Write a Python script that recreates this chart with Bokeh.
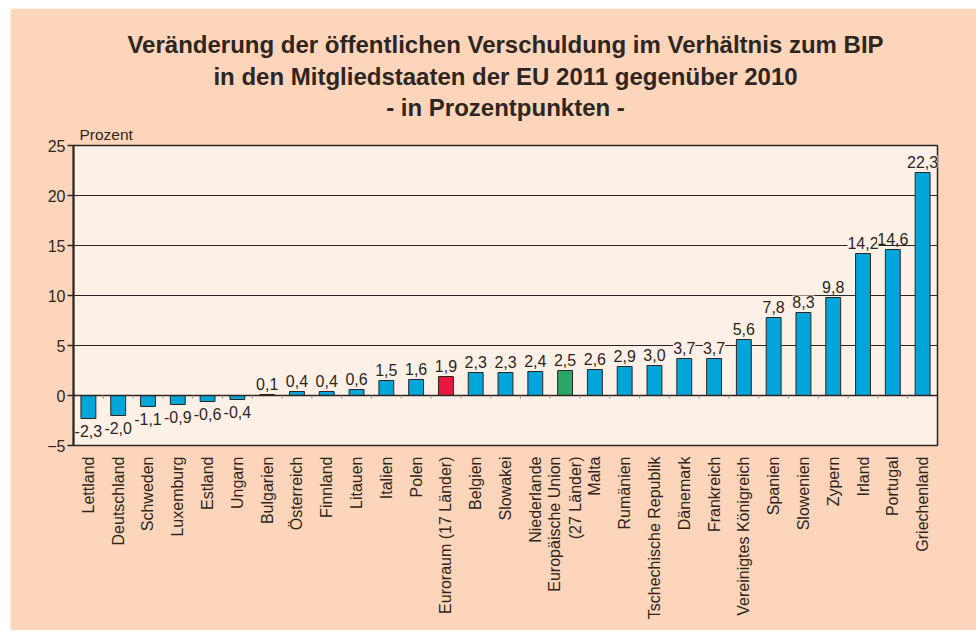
import math
from bokeh.plotting import figure
from bokeh.models import ColumnDataSource, LabelSet, Range1d, FactorRange, FixedTicker, Title
from bokeh.core.properties import value
from bokeh.embed import file_html
from bokeh.resources import INLINE

countries = ["Lettland", "Deutschland", "Schweden", "Luxemburg", "Estland", "Ungarn",
             "Bulgarien", "Österreich", "Finnland", "Litauen", "Italien", "Polen",
             "Euroraum (17 Länder)", "Belgien", "Slowakei", "Niederlande",
             "Europäische Union\n(27 Länder)", "Malta", "Rumänien", "Tschechische Republik",
             "Dänemark", "Frankreich", "Vereinigtes Königreich", "Spanien", "Slowenien",
             "Zypern", "Irland", "Portugal", "Griechenland"]
values = [-2.3, -2.0, -1.1, -0.9, -0.6, -0.4, 0.1, 0.4, 0.4, 0.6, 1.5, 1.6, 1.9, 2.3, 2.3,
          2.4, 2.5, 2.6, 2.9, 3.0, 3.7, 3.7, 5.6, 7.8, 8.3, 9.8, 14.2, 14.6, 22.3]
y_ticks = [-5, 0, 5, 10, 15, 20, 25]
title_lines = ["Veränderung der öffentlichen Verschuldung im Verhältnis zum BIP",
               "in den Mitgliedstaaten der EU 2011 gegenüber 2010",
               "- in Prozentpunkten -"]
y_unit = "Prozent"

BLUE = "#00a5da"
RED = "#e8173f"
GREEN = "#2aa764"
OUTER = "#fdd5ba"
INNER = "#fdf0e6"
DARK = "#2e2520"
FONT = "Liberation Sans"

colors = []
for c in countries:
    if c.startswith("Euroraum"):
        colors.append(RED)
    elif c.startswith("Europäische"):
        colors.append(GREEN)
    else:
        colors.append(BLUE)

labels = [("%.1f" % v).replace(".", ",") for v in values]
pos_src = ColumnDataSource(dict(x=[c for c, v in zip(countries, values) if v >= 0],
                                y=[v for v in values if v >= 0],
                                t=[l for l, v in zip(labels, values) if v >= 0]))
neg_src = ColumnDataSource(dict(x=[c for c, v in zip(countries, values) if v < 0],
                                y=[v for v in values if v < 0],
                                t=[l for l, v in zip(labels, values) if v < 0]))
src = ColumnDataSource(dict(x=countries, top=values, color=colors))

p = figure(width=966, height=622, x_range=FactorRange(*countries, range_padding=0),
           y_range=Range1d(-5, 25), output_backend="svg", toolbar_location=None,
           title=None,
           min_border_left=63, min_border_right=39, min_border_top=137, min_border_bottom=185)
p.margin = (8, 0, 0, 10)

p.background_fill_color = INNER
p.border_fill_color = OUTER
p.outline_line_color = DARK
p.outline_line_width = 1.5

# titles, stacked from the frame outward
p.add_layout(Title(text=y_unit, align="left", offset=6, standoff=6, text_font=FONT,
                   text_font_size="15.5px", text_font_style="normal", text_color=DARK), "above")
standoffs = [3, 3, 0]
for line, so in zip(reversed(title_lines), reversed(standoffs)):
    p.add_layout(Title(text=line, align="center", standoff=so, text_font=FONT,
                       text_font_size="24px", text_font_style="bold", text_color=DARK), "above")

p.xgrid.grid_line_color = None
p.ygrid.ticker = FixedTicker(ticks=y_ticks)
p.ygrid.grid_line_color = DARK
p.ygrid.grid_line_width = 1.2

p.yaxis.ticker = FixedTicker(ticks=y_ticks)
p.yaxis.axis_line_color = DARK
p.yaxis.axis_line_width = 2
p.yaxis.major_tick_line_color = DARK
p.yaxis.major_tick_line_width = 1.5
p.yaxis.major_tick_out = 6
p.yaxis.major_tick_in = 0
p.yaxis.minor_tick_line_color = None
p.yaxis.major_label_text_font = FONT
p.yaxis.major_label_text_font_size = "16px"
p.yaxis.major_label_text_color = DARK
p.yaxis.major_label_standoff = 2

p.xaxis.axis_line_color = None
p.xaxis.major_tick_line_color = None
p.xaxis.minor_tick_line_color = None
p.xaxis.major_label_orientation = math.pi / 2
p.xaxis.major_label_text_font = FONT
p.xaxis.major_label_text_font_size = "16px"
p.xaxis.major_label_text_color = DARK
p.xaxis.major_label_standoff = 5

p.vbar(x="x", top="top", bottom=0, width=0.5, fill_color="color", line_color=DARK,
       line_width=1, source=src)

# zero line and small separators
p.line(x=[0, len(countries)], y=[0, 0], line_color=DARK, line_width=1.5)
sep = list(range(1, len(countries)))
p.segment(x0=sep, x1=sep, y0=[0] * len(sep), y1=[-0.3] * len(sep), line_color="#9a8f88", line_width=1)

p.add_layout(LabelSet(x="x", y="y", text="t", source=pos_src, text_align="center",
                      text_baseline="bottom", y_offset=5, text_font=value(FONT),
                      text_font_size=value("16px"), text_color=DARK,
                      background_fill_color=INNER))
p.add_layout(LabelSet(x="x", y="y", text="t", source=neg_src, text_align="center",
                      text_baseline="top", y_offset=-6, text_font=value(FONT),
                      text_font_size=value("16px"), text_color=DARK))

open("out.html", "w").write(file_html(p, INLINE))
